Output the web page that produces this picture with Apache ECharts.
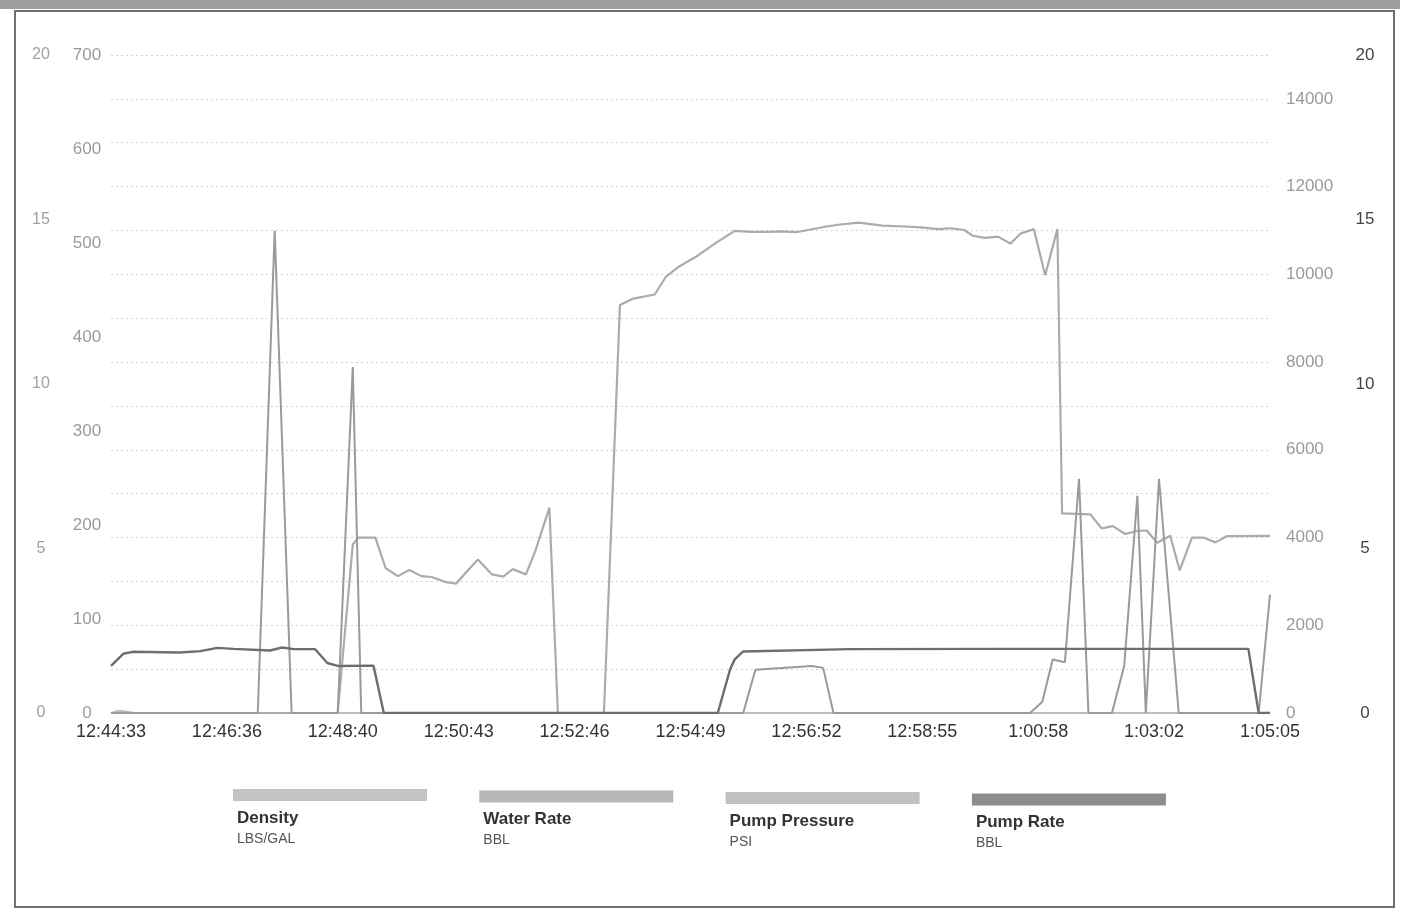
<!DOCTYPE html>
<html>
<head>
<meta charset="utf-8">
<script src="https://cdn.jsdelivr.net/npm/echarts@6/dist/echarts.min.js"></script>
<style>
html,body{margin:0;padding:0;background:#ffffff;}
#c{width:1408px;height:912px;}
</style>
</head>
<body>
<div id="c"></div>
<script>
// ---- data (x = seconds after 12:44:33) ----
const tickLabels = ['12:44:33','12:46:36','12:48:40','12:50:43','12:52:46','12:54:49','12:56:52','12:58:55','1:00:58','1:03:02','1:05:05'];

const seriesNames = ['Density','Water Rate','Pump Pressure','Pump Rate'];
const seriesUnits = ['LBS/GAL','BBL','PSI','BBL'];

const densitySec = [0, 6, 12, 25, 1232];
const densityVal = [0, 0.05, 0.06, 0, 0];

const waterSec = [0,156,174,192,241,257,266,672,685,745,757,768,977,990,1001,1014,1029,1039,1064,1077,1091,1100,1114,1135,1220,1232];
const waterVal = [0,0,513,0,0,368,0,0,46,50,48,0,0,12,57,54,249,0,0,50,231,0,249,0,0,126];

const pressureSec = [0,241,257,263,281,292,305,317,330,341,355,367,378,390,405,417,427,441,451,466,475,524,541,554,578,590,604,624,641,663,681,697,713,728,738,758,773,795,820,844,860,880,892,907,916,929,943,956,967,981,993,1006,1011,1041,1053,1065,1078,1091,1101,1112,1126,1136,1149,1161,1174,1186,1232];
const pressureVal = [0,0,3840,4000,4000,3300,3120,3260,3120,3100,2990,2950,3220,3500,3160,3110,3280,3160,3690,4680,0,0,9300,9440,9540,9950,10180,10430,10690,10990,10970,10970,10980,10960,11000,11080,11130,11180,11110,11090,11070,11030,11050,11010,10880,10830,10860,10700,10930,11030,9980,11030,4550,4530,4210,4260,4080,4150,4160,3880,4040,3250,4000,4000,3890,4030,4040];

const pumpRateSec = [0,13,23,73,95,113,130,169,182,194,217,230,241,279,290,645,658,663,672,786,945,1209,1220,1232];
const pumpRateVal = [1.43,1.80,1.86,1.84,1.88,1.98,1.95,1.90,1.99,1.94,1.94,1.52,1.43,1.44,0,0,1.32,1.63,1.87,1.94,1.95,1.95,0,0];

// ---- styles ----
const FONT = '"Liberation Sans", Arial, sans-serif';
const lineColors = ['#bdbdbd', '#9a9a9a', '#ababab', '#6e6e6e'];
const legendColors = ['#c3c3c3', '#b6b6b6', '#c1c1c1', '#8d8d8d'];

function pairs(xs, ys) { return xs.map((x, i) => [x, ys[i]]); }

const chart = echarts.init(document.getElementById('c'), null, {renderer: 'canvas'});

const hiddenAxisParts = {
  axisLine: {show: false}, axisTick: {show: false}, splitLine: {show: false}
};

const legendGraphics = [];
seriesNames.forEach((name, i) => {
  const lx = 233 + i * 246.3;
  const ly = 789 + i * 1.5;
  legendGraphics.push({
    type: 'rect', silent: true,
    shape: {x: lx, y: ly, width: 194, height: 12},
    style: {fill: legendColors[i]}
  });
  legendGraphics.push({
    type: 'text', silent: true, x: lx + 4, y: ly + 29,
    style: {text: name, font: 'bold 17px ' + FONT, fill: '#333333', verticalAlign: 'middle'}
  });
  legendGraphics.push({
    type: 'text', silent: true, x: lx + 4, y: ly + 50,
    style: {text: seriesUnits[i], font: '14px ' + FONT, fill: '#555555', verticalAlign: 'middle'}
  });
});

const plain = v => String(v);

const option = {
  animation: false,
  backgroundColor: '#ffffff',
  textStyle: {fontFamily: FONT},
  grid: {left: 111, right: 138, top: 55, bottom: 199, containLabel: false},
  xAxis: {
    type: 'value', min: 0, max: 1232, interval: 123.2,
    axisLine: {show: false}, axisTick: {show: false}, splitLine: {show: false},
    axisLabel: {
      color: '#333333', fontSize: 18, margin: 10, fontFamily: FONT,
      formatter: v => tickLabels[Math.round(v / 123.2)] || ''
    }
  },
  yAxis: [
    Object.assign({type: 'value', min: 0, max: 20, interval: 5, position: 'left',
      axisLabel: {margin: 70, align: 'center', color: '#a0a0a0', fontSize: 16, fontFamily: FONT, formatter: plain}}, hiddenAxisParts),
    Object.assign({type: 'value', min: 0, max: 700, interval: 100, position: 'left',
      axisLabel: {margin: 24, align: 'center', color: '#9a9a9a', fontSize: 17, fontFamily: FONT, formatter: plain}}, hiddenAxisParts),
    Object.assign({type: 'value', min: 0, max: 15000, interval: 2000, position: 'right',
      axisLabel: {margin: 16, align: 'left', color: '#9a9a9a', fontSize: 17, fontFamily: FONT, showMaxLabel: false, formatter: plain}}, hiddenAxisParts),
    Object.assign({type: 'value', min: 0, max: 20, interval: 5, position: 'right',
      axisLabel: {margin: 95, align: 'center', color: '#444444', fontSize: 17, fontFamily: FONT, formatter: plain}}, hiddenAxisParts),
    {type: 'value', min: 0, max: 15, interval: 1, position: 'right',
      axisLabel: {show: false}, axisLine: {show: false}, axisTick: {show: false},
      splitLine: {show: true, lineStyle: {color: '#d2d2d2', width: 1, type: [2, 3]}}}
  ],
  series: [
    {name: seriesNames[0], type: 'line', yAxisIndex: 0, symbol: 'none', z: 1,
      lineStyle: {width: 2, color: lineColors[0]}, data: pairs(densitySec, densityVal)},
    {name: seriesNames[1], type: 'line', yAxisIndex: 1, symbol: 'none', z: 3,
      lineStyle: {width: 2, color: lineColors[1]}, data: pairs(waterSec, waterVal)},
    {name: seriesNames[2], type: 'line', yAxisIndex: 2, symbol: 'none', z: 2,
      lineStyle: {width: 2.2, color: lineColors[2]}, data: pairs(pressureSec, pressureVal)},
    {name: seriesNames[3], type: 'line', yAxisIndex: 3, symbol: 'none', z: 4,
      lineStyle: {width: 2.4, color: lineColors[3]}, data: pairs(pumpRateSec, pumpRateVal)}
  ],
  graphic: [
    {type: 'rect', silent: true, z: -10, shape: {x: 0, y: 0, width: 1400, height: 9}, style: {fill: '#9d9d9d'}},
    {type: 'rect', silent: true, z: -10, shape: {x: 15, y: 11, width: 1379, height: 896},
      style: {fill: 'none', stroke: '#707070', lineWidth: 2}}
  ].concat(legendGraphics)
};

chart.setOption(option);
</script>
</body>
</html>
